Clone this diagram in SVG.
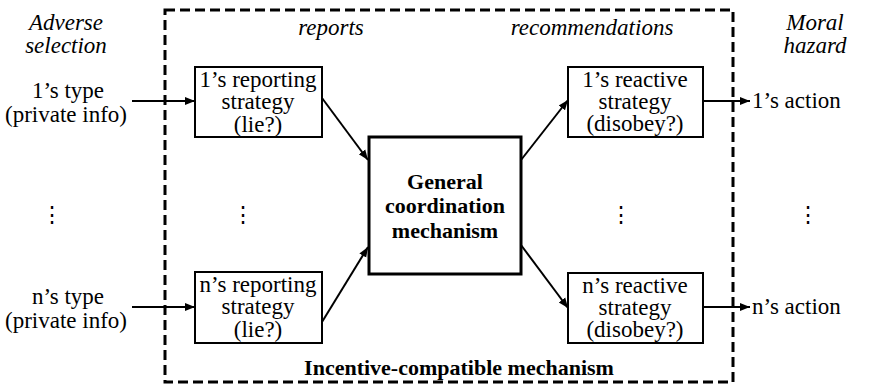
<svg xmlns="http://www.w3.org/2000/svg" width="869" height="384" viewBox="0 0 869 384">
<defs>
<marker id="ah" viewBox="0 0 10 10" refX="10" refY="5" markerWidth="10" markerHeight="10" markerUnits="userSpaceOnUse" orient="auto">
<path d="M0,1 L10,5 L0,9 Z" fill="#000"/>
</marker>
</defs>
<g id="frame">
<rect x="165" y="10" width="568" height="372" fill="none" stroke="#000" stroke-width="3" stroke-dasharray="10 5"/>
<text x="459" y="375" style="font-family:'Times New Roman','Liberation Serif',serif !important;font-size:22px;font-weight:bold;text-anchor:middle">Incentive-compatible mechanism</text>
</g>
<g id="labels">
<text x="66" y="30" style="font-family:'Times New Roman','Liberation Serif',serif !important;font-size:23px;font-style:italic;text-anchor:middle">Adverse</text>
<text x="66" y="53" style="font-family:'Times New Roman','Liberation Serif',serif !important;font-size:23px;font-style:italic;text-anchor:middle">selection</text>
<text x="815" y="30" style="font-family:'Times New Roman','Liberation Serif',serif !important;font-size:23px;font-style:italic;text-anchor:middle">Moral</text>
<text x="815" y="53" style="font-family:'Times New Roman','Liberation Serif',serif !important;font-size:23px;font-style:italic;text-anchor:middle">hazard</text>
<text x="331" y="35" style="font-family:'Times New Roman','Liberation Serif',serif !important;font-size:23px;font-style:italic;text-anchor:middle">reports</text>
<text x="592" y="35" style="font-family:'Times New Roman','Liberation Serif',serif !important;font-size:23px;font-style:italic;text-anchor:middle">recommendations</text>
</g>
<g id="type1">
<text x="68" y="98" style="font-family:'Times New Roman','Liberation Serif',serif !important;font-size:23px;text-anchor:middle">1’s type</text>
<text x="66" y="122" style="font-family:'Times New Roman','Liberation Serif',serif !important;font-size:23px;text-anchor:middle">(private info)</text>
</g>
<g id="typen">
<text x="68" y="304" style="font-family:'Times New Roman','Liberation Serif',serif !important;font-size:23px;text-anchor:middle">n’s type</text>
<text x="66" y="328" style="font-family:'Times New Roman','Liberation Serif',serif !important;font-size:23px;text-anchor:middle">(private info)</text>
</g>
<g id="report1">
<rect x="195" y="67" width="127" height="70" fill="#fff" stroke="#000" stroke-width="2"/>
<text x="258" y="87" style="font-family:'Times New Roman','Liberation Serif',serif !important;font-size:23px;text-anchor:middle">1’s reporting</text>
<text x="258" y="109" style="font-family:'Times New Roman','Liberation Serif',serif !important;font-size:23px;text-anchor:middle">strategy</text>
<text x="258" y="132" style="font-family:'Times New Roman','Liberation Serif',serif !important;font-size:23px;text-anchor:middle">(lie?)</text>
</g>
<g id="reportn">
<rect x="195" y="272" width="127" height="71" fill="#fff" stroke="#000" stroke-width="2"/>
<text x="258" y="292" style="font-family:'Times New Roman','Liberation Serif',serif !important;font-size:23px;text-anchor:middle">n’s reporting</text>
<text x="258" y="314" style="font-family:'Times New Roman','Liberation Serif',serif !important;font-size:23px;text-anchor:middle">strategy</text>
<text x="258" y="337" style="font-family:'Times New Roman','Liberation Serif',serif !important;font-size:23px;text-anchor:middle">(lie?)</text>
</g>
<g id="core">
<rect x="369" y="137" width="152" height="137" fill="#fff" stroke="#000" stroke-width="3"/>
<text x="445" y="189" style="font-family:'Times New Roman','Liberation Serif',serif !important;font-size:22px;font-weight:bold;text-anchor:middle">General</text>
<text x="445" y="213" style="font-family:'Times New Roman','Liberation Serif',serif !important;font-size:22px;font-weight:bold;text-anchor:middle">coordination</text>
<text x="445" y="238" style="font-family:'Times New Roman','Liberation Serif',serif !important;font-size:22px;font-weight:bold;text-anchor:middle">mechanism</text>
</g>
<g id="react1">
<rect x="568" y="67" width="135" height="70" fill="#fff" stroke="#000" stroke-width="2"/>
<text x="635" y="87" style="font-family:'Times New Roman','Liberation Serif',serif !important;font-size:23px;text-anchor:middle">1’s reactive</text>
<text x="635" y="109" style="font-family:'Times New Roman','Liberation Serif',serif !important;font-size:23px;text-anchor:middle">strategy</text>
<text x="635" y="131" style="font-family:'Times New Roman','Liberation Serif',serif !important;font-size:23px;text-anchor:middle">(disobey?)</text>
</g>
<g id="reactn">
<rect x="568" y="273" width="135" height="70" fill="#fff" stroke="#000" stroke-width="2"/>
<text x="635" y="293" style="font-family:'Times New Roman','Liberation Serif',serif !important;font-size:23px;text-anchor:middle">n’s reactive</text>
<text x="635" y="315" style="font-family:'Times New Roman','Liberation Serif',serif !important;font-size:23px;text-anchor:middle">strategy</text>
<text x="635" y="337" style="font-family:'Times New Roman','Liberation Serif',serif !important;font-size:23px;text-anchor:middle">(disobey?)</text>
</g>
<g id="action1">
<text x="752" y="108" style="font-family:'Times New Roman','Liberation Serif',serif !important;font-size:23px">1’s action</text>
</g>
<g id="actionn">
<text x="752" y="314" style="font-family:'Times New Roman','Liberation Serif',serif !important;font-size:23px">n’s action</text>
</g>
<g id="ellipses">
<text x="52" y="222" style="font-family:'DejaVu Serif',serif !important;font-size:22px;text-anchor:middle">⋮</text>
<text x="243" y="222" style="font-family:'DejaVu Serif',serif !important;font-size:22px;text-anchor:middle">⋮</text>
<text x="621" y="222" style="font-family:'DejaVu Serif',serif !important;font-size:22px;text-anchor:middle">⋮</text>
<text x="808" y="222" style="font-family:'DejaVu Serif',serif !important;font-size:22px;text-anchor:middle">⋮</text>
</g>
<g id="connectors" stroke="#000" stroke-width="2" marker-end="url(#ah)">
<line x1="132" y1="101" x2="195" y2="101"/>
<line x1="132" y1="307" x2="195" y2="307"/>
<line x1="322" y1="98" x2="368" y2="160"/>
<line x1="322" y1="322" x2="368" y2="247"/>
<line x1="521" y1="160" x2="568" y2="100"/>
<line x1="521" y1="245" x2="568" y2="308"/>
<line x1="703" y1="101" x2="750" y2="101"/>
<line x1="703" y1="307" x2="750" y2="307"/>
</g>
</svg>
